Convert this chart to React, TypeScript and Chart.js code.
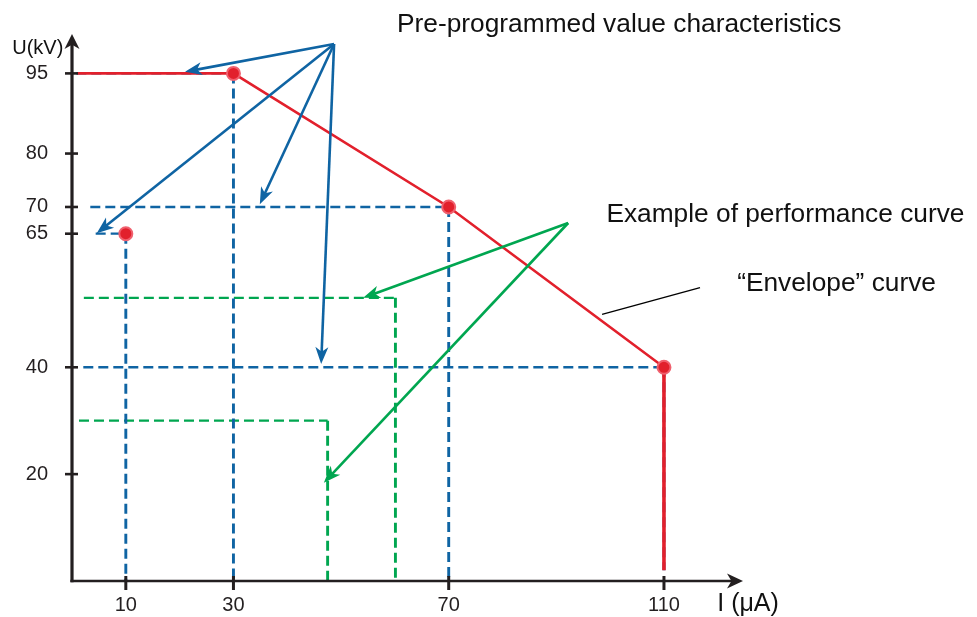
import { useEffect, useRef } from 'react';
import { Chart, registerables } from 'chart.js';

Chart.register(...registerables);

// ---- axis ranges and ticks ----
const X_MAX = 124.5;
const Y_MAX = 102;
const X_TICKS = [10, 30, 70, 110];
const Y_TICKS = [20, 40, 65, 70, 80, 95];

// ---- "Envelope" curve (I in µA, U in kV) ----
const ENVELOPE_I = [1, 30, 70, 110, 110];
const ENVELOPE_U = [95, 95, 70, 40, 2];

// ---- pre-programmed value characteristics ----
const PRESET_I = [30, 70, 10, 110];
const PRESET_U = [95, 70, 65, 40];
const PRESET_FROM_I = [0.8, 3.4, 4.4, 2.1];

// ---- example performance curves ----
const EXAMPLE_I = [47.5, 60.1];
const EXAMPLE_U = [30, 53];
const EXAMPLE_FROM_I = [1.3, 2.2];

// ---- callouts (data units) ----
const PRESET_CALLOUT_FROM = { x: 48.7, y: 100.5 };
const PRESET_CALLOUT_TO = [
  { x: 21.0, y: 95.3 },
  { x: 4.6, y: 65.1 },
  { x: 34.9, y: 70.5 },
  { x: 46.3, y: 40.6 },
];
const EXAMPLE_CALLOUT_FROM = { x: 92.2, y: 67.0 };
const EXAMPLE_CALLOUT_TO = [
  { x: 54.1, y: 53.0 },
  { x: 46.8, y: 18.4 },
];
const ENVELOPE_LEADER = [
  { x: 98.5, y: 49.9 },
  { x: 116.7, y: 54.9 },
];
const TEXT_LABELS = [
  { text: 'Pre-programmed value characteristics', x: 60.4, y: 102.8, size: 26.3 },
  { text: 'Example of performance curve', x: 99.3, y: 67.2, size: 26.3 },
  { text: '\u201CEnvelope\u201D curve', x: 123.6, y: 54.3, size: 26.3 },
  { text: 'U(kV)', x: -11.1, y: 98.6, size: 20 },
  { text: 'I (\u03BCA)', x: 119.9, y: -5.6, size: 25 },
];

const INK = '#231f20';
const RED = '#e2202c';
const BLUE = '#0f64a3';
const GREEN = '#00a650';
const FONT = '"Liberation Sans", Arial, Helvetica, sans-serif';

function arrowHead(ctx: CanvasRenderingContext2D, fx: number, fy: number, tx: number, ty: number, L: number, W: number) {
  const dx = tx - fx;
  const dy = ty - fy;
  const len = Math.hypot(dx, dy) || 1;
  const ux = dx / len;
  const uy = dy / len;
  const nx = -uy;
  const ny = ux;
  const bx = tx - ux * L;
  const by = ty - uy * L;
  const mx = tx - ux * L * 0.72;
  const my = ty - uy * L * 0.72;
  ctx.beginPath();
  ctx.moveTo(tx, ty);
  ctx.lineTo(bx + nx * W, by + ny * W);
  ctx.lineTo(mx, my);
  ctx.lineTo(bx - nx * W, by - ny * W);
  ctx.closePath();
  ctx.fill();
}

function callout(ctx: CanvasRenderingContext2D, fx: number, fy: number, tx: number, ty: number, color: string) {
  const L = 17;
  const W = 6.5;
  const dx = tx - fx;
  const dy = ty - fy;
  const len = Math.hypot(dx, dy) || 1;
  const ex = tx - (dx / len) * L * 0.7;
  const ey = ty - (dy / len) * L * 0.7;
  ctx.strokeStyle = color;
  ctx.fillStyle = color;
  ctx.lineWidth = 2.6;
  ctx.beginPath();
  ctx.moveTo(fx, fy);
  ctx.lineTo(ex, ey);
  ctx.stroke();
  arrowHead(ctx, fx, fy, tx, ty, L, W);
}

const overlayPlugin = {
  id: 'overlay',
  afterDatasetsDraw(chart: any) {
    const { ctx, chartArea: a } = chart;
    const xs = chart.scales.x;
    const ys = chart.scales.y;
    const px = (v: number) => xs.getPixelForValue(v);
    const py = (v: number) => ys.getPixelForValue(v);
    ctx.save();
    ctx.lineCap = 'butt';

    // axes
    ctx.strokeStyle = INK;
    ctx.fillStyle = INK;
    ctx.lineWidth = 3.2;
    ctx.beginPath();
    ctx.moveTo(a.left, a.bottom + 1.25);
    ctx.lineTo(a.left, a.top + 8);
    ctx.stroke();
    ctx.lineWidth = 2.6;
    ctx.beginPath();
    ctx.moveTo(a.left - 1.6, a.bottom);
    ctx.lineTo(a.right - 8, a.bottom);
    ctx.stroke();
    arrowHead(ctx, a.left, a.top + 20, a.left, a.top - 2, 15, 7.5);
    arrowHead(ctx, a.right - 20, a.bottom, a.right + 1, a.bottom, 16, 7.5);

    // tick marks
    ctx.lineWidth = 2.6;
    Y_TICKS.forEach((v) => {
      const yy = py(v);
      ctx.beginPath();
      ctx.moveTo(a.left - 7, yy);
      ctx.lineTo(a.left + 6, yy);
      ctx.stroke();
    });
    ctx.lineWidth = 3;
    X_TICKS.forEach((v) => {
      const xx = px(v);
      ctx.beginPath();
      ctx.moveTo(xx, a.bottom - 5);
      ctx.lineTo(xx, a.bottom + 9);
      ctx.stroke();
    });

    // callouts
    const bf = PRESET_CALLOUT_FROM;
    PRESET_CALLOUT_TO.forEach((t) => callout(ctx, px(bf.x), py(bf.y), px(t.x), py(t.y), BLUE));
    const gf = EXAMPLE_CALLOUT_FROM;
    EXAMPLE_CALLOUT_TO.forEach((t) => callout(ctx, px(gf.x), py(gf.y), px(t.x), py(t.y), GREEN));

    // envelope leader line
    ctx.strokeStyle = '#000';
    ctx.lineWidth = 1.4;
    ctx.beginPath();
    ctx.moveTo(px(ENVELOPE_LEADER[0].x), py(ENVELOPE_LEADER[0].y));
    ctx.lineTo(px(ENVELOPE_LEADER[1].x), py(ENVELOPE_LEADER[1].y));
    ctx.stroke();

    // texts
    ctx.fillStyle = '#111';
    ctx.textAlign = 'left';
    ctx.textBaseline = 'alphabetic';
    TEXT_LABELS.forEach((t) => {
      ctx.font = `${t.size}px ${FONT}`;
      ctx.fillText(t.text, px(t.x), py(t.y));
    });
    ctx.restore();
  },
};

// vertical segments look heavier in the reference artwork
const segWidth = (thin: number, thick: number) => (c: any) =>
  Math.abs(c.p0.x - c.p1.x) < 0.5 ? thick : thin;

export default function App() {
  const ref = useRef<HTMLCanvasElement | null>(null);

  useEffect(() => {
    if (!ref.current) return;
    const envelopeFloor = ENVELOPE_U[ENVELOPE_U.length - 1];
    const envelopeEndI = ENVELOPE_I[ENVELOPE_I.length - 1];

    const dashed = (color: string) => ({
      showLine: true,
      borderColor: color,
      borderWidth: 2.3,
      borderDash: [10, 5],
      pointRadius: 0,
      fill: false,
      segment: { borderWidth: segWidth(2.3, 2.9) },
    });

    const presetSets = PRESET_I.map((iv, k) => ({
      label: `preset ${k}`,
      data: [
        { x: PRESET_FROM_I[k], y: PRESET_U[k] },
        { x: iv, y: PRESET_U[k] },
        { x: iv, y: iv === envelopeEndI ? envelopeFloor : 0 },
      ],
      ...dashed(BLUE),
    }));
    const exampleSets = EXAMPLE_I.map((iv, k) => ({
      label: `example ${k}`,
      data: [
        { x: EXAMPLE_FROM_I[k], y: EXAMPLE_U[k] },
        { x: iv, y: EXAMPLE_U[k] },
        { x: iv, y: 0 },
      ],
      ...dashed(GREEN),
    }));

    const chart = new Chart(ref.current, {
      type: 'scatter',
      data: {
        datasets: [
          {
            label: 'preset points',
            data: PRESET_I.map((iv, k) => ({ x: iv, y: PRESET_U[k] })),
            showLine: false,
            pointRadius: 6.5,
            pointBackgroundColor: RED,
            pointBorderColor: '#f0606e',
            pointBorderWidth: 2,
          },
          {
            label: 'envelope',
            data: ENVELOPE_I.map((iv, k) => ({ x: iv, y: ENVELOPE_U[k] })),
            showLine: true,
            borderColor: RED,
            borderWidth: 2.6,
            pointRadius: 0,
            fill: false,
            segment: { borderWidth: segWidth(2.6, 3.6) },
          },
          ...presetSets,
          ...exampleSets,
        ] as any,
      },
      options: {
        animation: false,
        responsive: true,
        maintainAspectRatio: false,
        events: [],
        layout: { padding: { top: 34, right: 235, left: 0, bottom: 0 } },
        plugins: { legend: { display: false }, tooltip: { enabled: false } },
        scales: {
          x: {
            type: 'linear',
            min: 0,
            max: X_MAX,
            afterBuildTicks: (s: any) => {
              s.ticks = X_TICKS.map((value) => ({ value }));
            },
            afterFit: (s: any) => {
              s.height = 35;
            },
            grid: { display: false, drawTicks: false },
            border: { display: false },
            ticks: {
              padding: 12,
              autoSkip: false,
              maxRotation: 0,
              color: INK,
              font: { family: FONT, size: 20 },
            },
          },
          y: {
            type: 'linear',
            min: 0,
            max: Y_MAX,
            afterBuildTicks: (s: any) => {
              s.ticks = Y_TICKS.map((value) => ({ value }));
            },
            afterFit: (s: any) => {
              s.width = 72;
            },
            grid: { display: false, drawTicks: false },
            border: { display: false },
            ticks: {
              padding: 24,
              autoSkip: false,
              color: INK,
              font: { family: FONT, size: 20 },
            },
          },
        },
      } as any,
      plugins: [overlayPlugin],
    });
    return () => chart.destroy();
  }, []);

  return (
    <div style={{ position: 'absolute', left: 0, top: 0, width: 977, height: 617, background: '#fff' }}>
      <canvas ref={ref} />
    </div>
  );
}
